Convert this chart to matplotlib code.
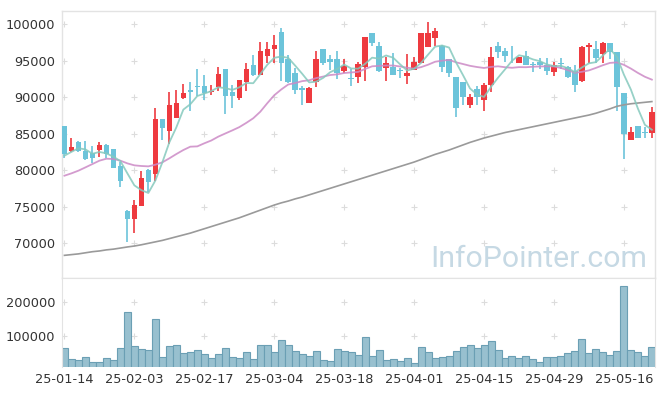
import matplotlib
matplotlib.use('Agg')
import matplotlib.pyplot as plt
import numpy as np
import pandas as pd

# ---------------- data ----------------
tick_labels = ['25-01-14', '25-02-03', '25-02-17', '25-03-04', '25-03-18',
               '25-04-01', '25-04-15', '25-04-29', '25-05-16']

opens = [86046, 82570, 83805, 82570, 82386, 82798, 83438, 82890, 80556, 74380,
         73282, 75112, 80007, 79412, 87007, 85406, 87190, 89889, 90987, 91536,
         91536, 90667, 91353, 93870, 90713, 89935, 92131, 94419, 93092, 95700,
         96569, 98902, 95288, 93366, 91307, 89249, 92040, 96615, 95196, 95196,
         93595, 92634, 92817, 94098, 98765, 97026, 94053, 94144, 93732, 92955,
         93732, 94739, 96935, 98079, 97072, 95196, 92726, 92085, 88929, 91079,
         89661, 91719, 97026, 96340, 95974, 94739, 95608, 94510, 94784, 94464,
         93504, 94693, 94098, 93595, 92222, 96935, 96615, 95883, 97392, 96157,
         90530, 84171, 86046, 85177, 85085]
highs = [86100, 84399, 83987, 83987, 83300, 83805, 83530, 82950, 81151, 74517,
         75890, 79824, 80099, 88471, 87050, 90667, 90987, 91811, 92040, 93824,
         93000, 91719, 94098, 93900, 91628, 92400, 94647, 95791, 97530, 97530,
         98536, 99451, 95837, 94007, 91490, 91350, 96294, 96650, 95791, 96294,
         95196, 93915, 94876, 98250, 98850, 97530, 95471, 96111, 93961, 95883,
         95471, 98850, 100366, 99451, 97100, 95200, 92750, 92100, 90438, 91536,
         91902, 96843, 97530, 96798, 97026, 95563, 96294, 94876, 95334, 95334,
         94784, 95425, 94300, 94419, 97026, 97484, 97758, 97621, 97400, 96200,
         90550, 85863, 86050, 85863, 88700]
lows = [81609, 82524, 82478, 81426, 81014, 81792, 81609, 80236, 77628, 70080,
        71406, 75050, 77034, 78498, 84125, 83530, 87099, 89798, 88151, 90164,
        89615, 90255, 90804, 87648, 88471, 89615, 90804, 92955, 93000, 94647,
        94739, 92268, 91994, 90393, 88929, 89200, 91445, 94419, 93732, 92452,
        93275, 91536, 91902, 92222, 97026, 93504, 92177, 93000, 92589, 91765,
        93700, 94700, 96843, 97072, 93504, 92817, 87327, 88929, 88471, 88929,
        88105, 90713, 95334, 94876, 94739, 94700, 94450, 93412, 93824, 93000,
        92955, 93915, 92700, 90667, 92131, 94739, 94647, 94647, 95196, 88151,
        81471, 84150, 84350, 84445, 84353]
closes = [82203, 83164, 82615, 81517, 81700, 83438, 82203, 80328, 78498, 73282,
          75204, 78910, 78406, 87007, 85771, 88929, 89203, 90575, 90713, 91399,
          90621, 90896, 93183, 90164, 90164, 92360, 93870, 93046, 96340, 96615,
          97163, 94739, 92131, 90987, 91033, 91262, 95242, 94739, 94876, 93275,
          94281, 92543, 94601, 98216, 97484, 93595, 94739, 93092, 93641, 93275,
          94784, 98765, 98765, 99085, 94098, 93366, 88563, 89981, 89981, 89981,
          91673, 95471, 96249, 95700, 95883, 95471, 94464, 94419, 94464, 93641,
          94373, 94602, 92817, 91719, 96889, 97209, 95425, 97392, 96249, 91445,
          84994, 85177, 84399, 85085, 88014]
volumes = [63400, 30700, 27700, 36600, 21800, 21800, 33700, 27700, 63400, 170300,
           69300, 60400, 57400, 149500, 36600, 69300, 72300, 48500, 51500, 57400,
           45500, 33700, 45500, 63400, 36600, 33700, 51500, 30700, 72300, 72300,
           51500, 87100, 72300, 54500, 45500, 39600, 54500, 27700, 24800, 60400,
           54500, 51500, 42600, 96000, 39600, 57400, 27700, 30700, 24800, 33700,
           18800, 66300, 51500, 33700, 36600, 39600, 54500, 66300, 72300, 63400,
           72300, 84200, 57400, 33700, 39600, 33700, 39600, 30700, 21800, 36600,
           36600, 39600, 48500, 54500, 90100, 48500, 60400, 51500, 42600, 54500,
           248500, 57400, 51500, 39600, 66300]
# moving-average values before enough in-window history exists
ma5_head = [81975, 82500, 83000, 82840]
ma20_head = [79230, 79550, 79920, 80370, 80830, 81290, 81560, 81520, 81290, 80920,
             80650, 80560, 80510, 80740, 81060, 81610, 82200, 82750, 83210]
# long moving average (gray)
ma_long = [68300, 68400, 68500, 68650, 68800, 68900, 69050, 69150, 69300, 69450,
           69580, 69750, 69950, 70150, 70350, 70600, 70850, 71100, 71350, 71650,
           71950, 72250, 72550, 72850, 73150, 73450, 73800, 74150, 74500, 74850,
           75200, 75500, 75750, 76050, 76300, 76600, 76900, 77200, 77500, 77800,
           78100, 78400, 78700, 79000, 79300, 79600, 79900, 80200, 80500, 80800,
           81100, 81450, 81800, 82150, 82450, 82750, 83100, 83450, 83800, 84100,
           84400, 84650, 84900, 85150, 85350, 85550, 85750, 85950, 86150, 86350,
           86550, 86750, 86950, 87150, 87350, 87550, 87800, 88100, 88400, 88750,
           88950, 89100, 89200, 89300, 89400]

# ---------------- drawing ----------------
RED = '#ee3a3f'
CYAN = '#6cc4da'
GRID = '#dcdcdc'
SPINE = '#e3e3e3'
TXT = '#333333'

plt.rcParams['font.family'] = ['DejaVu Sans']

o = np.array(opens, float); h = np.array(highs, float)
l = np.array(lows, float); c = np.array(closes, float)
v = np.array(volumes, float)
n = len(c)
x = np.arange(n)

cs = pd.Series(c)
ma5 = cs.rolling(5).mean().to_numpy()
ma5[:4] = ma5_head
ma20 = cs.rolling(20).mean().to_numpy()
ma20[:19] = ma20_head

W, H = 665, 396
fig = plt.figure(figsize=(W / 100, H / 100), dpi=100)
left, right = 62, 655
top, mid, bot = 10.7, 278.3, 367
ax = fig.add_axes([left / W, (H - mid) / H, (right - left) / W, (mid - top) / H])
axv = fig.add_axes([left / W, (H - bot) / H, (right - left) / W, (bot - mid) / H], sharex=ax)

xticks = list(range(0, n, 10))
yticks = [70000, 75000, 80000, 85000, 90000, 95000, 100000]
vticks = [100000, 200000]

# grid crosses
for xi in xticks:
    ax.plot([xi] * len(yticks), yticks, ls='none', marker='+', ms=5, mew=0.8,
            color=GRID, zorder=0)
    axv.plot([xi] * len(vticks), vticks, ls='none', marker='+', ms=5, mew=0.8,
             color=GRID, zorder=0)

# candles
up = c >= o
cols = np.where(up, RED, CYAN)
ax.vlines(x, l, h, colors=cols, lw=1.2, zorder=2)
body = np.maximum(np.abs(c - o), 70)
ax.bar(x, body, bottom=np.minimum(o, c), width=0.78, color=cols, zorder=3,
       linewidth=0)

# moving averages
ax.plot(x, ma_long, color='#9a9a9a', lw=1.2, zorder=4)
ax.plot(x, ma20, color='#cc8ac6', lw=1.3, alpha=0.85, zorder=4)
ax.plot(x, ma5, color='#85c9bd', lw=1.3, alpha=0.85, zorder=4)

ax.set_ylim(65150, 101870)
ax.set_xlim(-0.35, n - 1 + 0.45)
ax.set_yticks(yticks)
ax.set_yticklabels([str(t) for t in yticks])
ax.tick_params(axis='y', length=0, labelsize=9.3, colors=TXT, pad=5)
ax.tick_params(axis='x', length=0, labelbottom=False)
for s in ['left', 'top', 'right', 'bottom']:
    ax.spines[s].set_color(SPINE)
    ax.spines[s].set_linewidth(1.0)

# volume
axv.bar(x, v, width=1.0, color='#98c0cf', edgecolor='#6b9fb4', linewidth=0.8, zorder=2)
axv.set_ylim(8000, 271000)
axv.set_yticks(vticks)
axv.set_yticklabels([str(t) for t in vticks])
axv.set_xticks(xticks)
axv.set_xticklabels(tick_labels)
axv.tick_params(axis='both', length=0, labelsize=9.3, colors=TXT)
axv.tick_params(axis='y', pad=5)
axv.tick_params(axis='x', pad=4)
for s in ['left', 'top', 'right']:
    axv.spines[s].set_color(SPINE)
axv.spines['bottom'].set_visible(False)

# watermark
fig.text(430 / W, (H - 267) / H, 'InfoPointer.com', ha='left', va='baseline',
         fontsize=21.8, color='#c6d9e4', family=['Roboto', 'DejaVu Sans'], zorder=10)

fig.savefig('out.png', dpi=100)
